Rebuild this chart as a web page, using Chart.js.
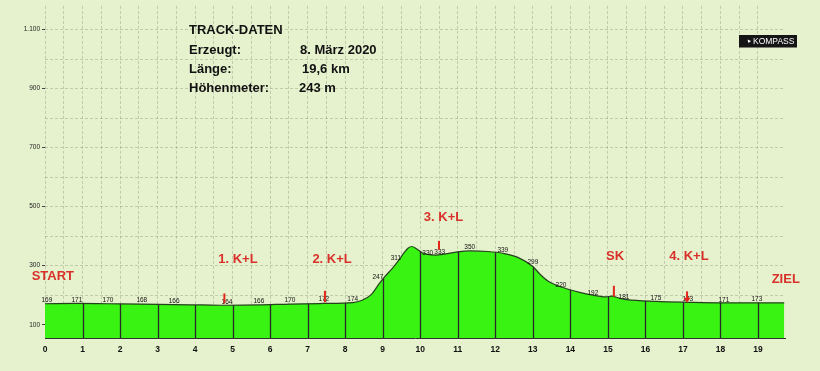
<!DOCTYPE html>
<html>
<head>
<meta charset="utf-8">
<script src="https://cdn.jsdelivr.net/npm/chart.js@4.4.1/dist/chart.umd.min.js"></script>
<style>
    html, body { margin: 0; padding: 0; background: #e6f1cd; }
    canvas { display: block; }
</style>
</head>
<body>
<canvas id="profile" width="820" height="371"></canvas>
<script>
// elevation profile (km / m)
const profileKm = [0, 0.85, 1.68, 2.58, 3.44, 4.2, 4.85, 5.7, 6.53, 7.43, 8.2, 8.45, 8.7, 8.9, 9.05, 9.25, 9.45, 9.58, 9.68, 9.78,
    9.9, 10.05, 10.2, 10.4, 10.6, 11.0, 11.32, 11.8, 12.2, 12.6, 13.0, 13.2, 13.4, 13.6, 13.9, 14.3, 14.6, 14.95, 15.1, 15.3, 15.5,
    16.28, 17.13, 18.09, 18.97, 19.7];
const profileEle = [171, 172, 171, 170, 168, 167, 166, 167, 170, 172, 175, 183, 203, 238, 262, 290, 322, 346, 360, 365,
    357, 344, 338, 336, 338, 347, 350, 348, 342, 328, 297, 270, 248, 235, 222, 208, 200, 194, 197, 190, 185,
    179, 176, 174, 174, 174];

// printed elevation values along the track
const labelKm = [0.05, 0.85, 1.68, 2.58, 3.44, 4.85, 5.7, 6.53, 7.43, 8.2, 8.87, 9.35, 10.2, 10.52, 11.32, 12.2,
    13.0, 13.75, 14.6, 15.43, 16.28, 17.13, 18.09, 18.97];
const labelEle = [169, 171, 170, 168, 166, 164, 166, 170, 172, 174, 247, 311, 330, 333, 350, 339,
    299, 220, 192, 181, 175, 173, 171, 173];

// km divider lines
const kmLines = [1, 2, 3, 4, 5, 6, 7, 8, 9, 10, 11, 12, 13, 14, 15, 16, 17, 18, 19];

// red markers
const markerKm = [4.78, 7.46, 10.5, 15.16, 17.11];
const markerTop = [206, 215, 384, 232, 213];
const markerBottom = [173, 176, 354, 195, 174];
const markerArrow = [false, false, false, false, true];

// station names
const stationNames = ['START', '1. K+L', '2. K+L', '3. K+L', 'SK', '4. K+L', 'ZIEL'];
const stationKm = [0.21, 5.14, 7.65, 10.62, 15.19, 17.16, 19.74];
const stationEle = [262, 322, 322, 465, 332, 332, 255];

// track info
const infoTitle = 'TRACK-DATEN';
const infoLabels = ['Erzeugt:', 'Länge:', 'Höhenmeter:'];
const infoValues = ['8. März 2020', '19,6 km', '243 m'];

const THEME = {
    grid: 'rgba(105, 115, 95, 0.3)',
    fill: '#39f313',
    outline: '#24421c',
    divider: '#2a2a2a',
    red: '#d8312a',
    marker: '#e2261b',
    text: '#111111',
    font: "Arial, 'Liberation Sans', sans-serif",
};

const overlay = {
    id: 'overlay',
    afterDatasetsDraw(chart) {
        const { ctx, chartArea } = chart;
        const x = chart.scales.x;
        const y = chart.scales.y;
        const meta = chart.getDatasetMeta(0);
        const line = meta.dataset;
        const pts = meta.data;

        // km dividers, clipped to the filled profile
        ctx.save();
        ctx.beginPath();
        line.path(ctx);
        ctx.lineTo(pts[pts.length - 1].x, chartArea.bottom);
        ctx.lineTo(pts[0].x, chartArea.bottom);
        ctx.closePath();
        ctx.clip();
        ctx.strokeStyle = THEME.divider;
        ctx.lineWidth = 1.3;
        kmLines.forEach(k => {
            const px = Math.round(x.getPixelForValue(k)) + 0.5;
            ctx.beginPath();
            ctx.moveTo(px, chartArea.bottom);
            ctx.lineTo(px, chartArea.top);
            ctx.stroke();
        });
        ctx.restore();

        // elevation numbers
        ctx.save();
        ctx.font = '6.5px ' + THEME.font;
        ctx.fillStyle = THEME.text;
        ctx.textAlign = 'center';
        ctx.textBaseline = 'middle';
        labelKm.forEach((k, i) => {
            ctx.fillText(String(labelEle[i]), x.getPixelForValue(k), y.getPixelForValue(labelEle[i]) - 4);
        });
        ctx.restore();

        // red markers
        ctx.save();
        ctx.strokeStyle = THEME.marker;
        ctx.fillStyle = THEME.marker;
        ctx.lineWidth = 2;
        markerKm.forEach((k, i) => {
            const px = x.getPixelForValue(k);
            const top = y.getPixelForValue(markerTop[i]);
            const bot = y.getPixelForValue(markerBottom[i]);
            ctx.beginPath();
            ctx.moveTo(px, top);
            ctx.lineTo(px, markerArrow[i] ? bot - 3 : bot);
            ctx.stroke();
            if (markerArrow[i]) {
                ctx.beginPath();
                ctx.moveTo(px - 3.5, bot - 5);
                ctx.lineTo(px + 3.5, bot - 5);
                ctx.lineTo(px, bot);
                ctx.closePath();
                ctx.fill();
            }
        });
        ctx.restore();

        // station names
        ctx.save();
        ctx.font = 'bold 13px ' + THEME.font;
        ctx.fillStyle = THEME.red;
        ctx.textAlign = 'center';
        ctx.textBaseline = 'middle';
        stationNames.forEach((name, i) => {
            ctx.fillText(name, x.getPixelForValue(stationKm[i]), y.getPixelForValue(stationEle[i]));
        });
        ctx.restore();

        // info block
        ctx.save();
        ctx.font = 'bold 13px ' + THEME.font;
        ctx.fillStyle = THEME.text;
        ctx.textAlign = 'left';
        ctx.textBaseline = 'alphabetic';
        ctx.fillText(infoTitle, 189, 34);
        const valueX = [300, 302, 299];
        infoLabels.forEach((lbl, i) => {
            const base = 54 + i * 19;
            ctx.fillText(lbl, 189, base);
            ctx.fillText(infoValues[i], valueX[i], base);
        });
        ctx.restore();

        // KOMPASS badge
        ctx.save();
        ctx.fillStyle = '#151515';
        ctx.fillRect(739, 35, 58, 12.5);
        ctx.fillStyle = '#ffffff';
        ctx.beginPath();
        ctx.moveTo(747.5, 39.5);
        ctx.lineTo(751, 41);
        ctx.lineTo(748.5, 43);
        ctx.closePath();
        ctx.fill();
        ctx.font = '8.5px ' + THEME.font;
        ctx.textBaseline = 'middle';
        ctx.fillText('KOMPASS', 753, 41.5);
        ctx.restore();
    },
};

Chart.defaults.font.family = THEME.font;
Chart.defaults.color = THEME.text;

new Chart(document.getElementById('profile'), {
    type: 'line',
    data: {
        datasets: [{
            data: profileKm.map((k, i) => ({ x: k, y: profileEle[i] })),
            fill: 'start',
            backgroundColor: THEME.fill,
            borderColor: THEME.outline,
            borderWidth: 1.2,
            pointRadius: 0,
            cubicInterpolationMode: 'monotone',
        }],
    },
    options: {
        responsive: false,
        animation: false,
        devicePixelRatio: 1,
        layout: { padding: { left: 0, right: 35, top: 0, bottom: 0 } },
        plugins: { legend: { display: false }, tooltip: { enabled: false } },
        scales: {
            x: {
                type: 'linear',
                min: 0,
                max: 19.72,
                afterFit: (s) => { s.height = 33; },
                afterBuildTicks: (s) => { s.ticks = s.ticks.filter(t => Number.isInteger(t.value * 2)); },
                ticks: {
                    stepSize: 0.5,
                    autoSkip: false,
                    maxRotation: 0,
                    padding: 7,
                    font: { size: 8.5, weight: 'bold' },
                    callback: (v) => Number.isInteger(v) ? String(v) : '',
                },
                grid: { color: THEME.grid, drawTicks: false, lineWidth: 1 },
                border: { display: true, color: '#333333', dash: [3, 2] },
            },
            y: {
                min: 55,
                max: 1180,
                afterFit: (s) => { s.width = 45; },
                afterBuildTicks: (s) => { s.ticks = s.ticks.filter(t => t.value % 100 === 0); },
                ticks: {
                    stepSize: 100,
                    padding: 2,
                    font: { size: 6.5 },
                    color: '#222222',
                    callback: (v) => v % 200 === 100 ? v.toLocaleString('de-DE') : '',
                },
                grid: {
                    color: THEME.grid,
                    tickLength: 3,
                    tickColor: (c) => (c.tick && c.tick.value % 200 === 100) ? '#444444' : 'transparent',
                },
                border: { display: false, dash: [3, 2] },
            },
        },
    },
    plugins: [overlay],
});
</script>
</body>
</html>
